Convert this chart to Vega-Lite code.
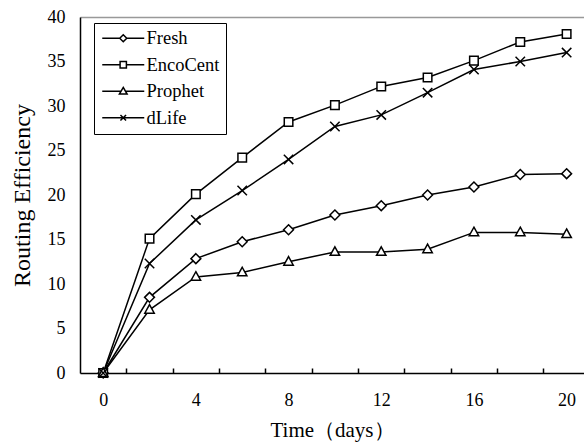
{
  "$schema": "https://vega.github.io/schema/vega-lite/v6.json",
  "width": 504,
  "height": 356,
  "autosize": {"type": "none"},
  "padding": {"left": 80, "top": 17, "right": 0, "bottom": 72},
  "background": "white",
  "config": {
    "view": {"stroke": null},
    "font": "Liberation Serif",
    "axis": {"labelFont": "Liberation Serif", "titleFont": "Liberation Serif", "labelColor": "black", "titleColor": "black", "titleFontWeight": "normal", "grid": false, "domainColor": "black", "domainWidth": 1.5, "tickColor": "black"},
    "legend": {"labelFont": "Liberation Serif"}
  },
  "data": {
    "values": [
      {"t": 0, "v": 0, "s": "Fresh"}, {"t": 2, "v": 8.5, "s": "Fresh"}, {"t": 4, "v": 12.85, "s": "Fresh"}, {"t": 6, "v": 14.75, "s": "Fresh"}, {"t": 8, "v": 16.1, "s": "Fresh"}, {"t": 10, "v": 17.75, "s": "Fresh"}, {"t": 12, "v": 18.8, "s": "Fresh"}, {"t": 14, "v": 20.0, "s": "Fresh"}, {"t": 16, "v": 20.9, "s": "Fresh"}, {"t": 18, "v": 22.3, "s": "Fresh"}, {"t": 20, "v": 22.4, "s": "Fresh"},
      {"t": 0, "v": 0, "s": "EncoCent"}, {"t": 2, "v": 15.1, "s": "EncoCent"}, {"t": 4, "v": 20.1, "s": "EncoCent"}, {"t": 6, "v": 24.2, "s": "EncoCent"}, {"t": 8, "v": 28.2, "s": "EncoCent"}, {"t": 10, "v": 30.1, "s": "EncoCent"}, {"t": 12, "v": 32.2, "s": "EncoCent"}, {"t": 14, "v": 33.2, "s": "EncoCent"}, {"t": 16, "v": 35.1, "s": "EncoCent"}, {"t": 18, "v": 37.2, "s": "EncoCent"}, {"t": 20, "v": 38.1, "s": "EncoCent"},
      {"t": 0, "v": 0, "s": "Prophet"}, {"t": 2, "v": 7.1, "s": "Prophet"}, {"t": 4, "v": 10.8, "s": "Prophet"}, {"t": 6, "v": 11.3, "s": "Prophet"}, {"t": 8, "v": 12.5, "s": "Prophet"}, {"t": 10, "v": 13.6, "s": "Prophet"}, {"t": 12, "v": 13.6, "s": "Prophet"}, {"t": 14, "v": 13.9, "s": "Prophet"}, {"t": 16, "v": 15.8, "s": "Prophet"}, {"t": 18, "v": 15.8, "s": "Prophet"}, {"t": 20, "v": 15.6, "s": "Prophet"},
      {"t": 0, "v": 0, "s": "dLife"}, {"t": 2, "v": 12.3, "s": "dLife"}, {"t": 4, "v": 17.2, "s": "dLife"}, {"t": 6, "v": 20.5, "s": "dLife"}, {"t": 8, "v": 24.0, "s": "dLife"}, {"t": 10, "v": 27.7, "s": "dLife"}, {"t": 12, "v": 29.0, "s": "dLife"}, {"t": 14, "v": 31.5, "s": "dLife"}, {"t": 16, "v": 34.1, "s": "dLife"}, {"t": 18, "v": 35.0, "s": "dLife"}, {"t": 20, "v": 36.0, "s": "dLife"}
    ]
  },
  "layer": [
    {
      "mark": {"type": "line", "color": "black", "strokeWidth": 1.5},
      "encoding": {
        "x": {"field": "t", "type": "quantitative", "scale": {"domain": [-1, 20.75], "nice": false, "zero": false},
          "axis": {"orient": "bottom", "values": [0,1,2,3,4,5,6,7,8,9,10,11,12,13,14,15,16,17,18,19,20],
            "labelExpr": "datum.value % 4 === 0 ? datum.label : ''",
            "tickSize": -5, "tickWidth": 1.5,
            "tickColor": {"condition": {"test": "datum.value % 2 === 0", "value": "transparent"}, "value": "black"},
            "labelFontSize": 18, "labelPadding": 23, "labelFlush": false,
            "title": "Time（days）", "titleFontSize": 21, "titlePadding": 10}},
        "y": {"field": "v", "type": "quantitative", "scale": {"domain": [0, 40], "nice": false},
          "axis": {"values": [0,5,10,15,20,25,30,35,40], "ticks": false, "labelFontSize": 18, "labelPadding": 15,
            "title": "Routing Efficiency", "titleFontSize": 24, "titlePadding": 13}},
        "detail": {"field": "s"}
      }
    },
    {
      "mark": {"type": "point", "filled": true, "fill": "white", "stroke": "black", "strokeWidth": 1.5, "size": 81, "opacity": 1},
      "encoding": {
        "x": {"field": "t", "type": "quantitative", "axis": {"orient": "top", "labels": false, "ticks": false, "title": null, "domainColor": "#999999", "domainWidth": 1.5}},
        "y": {"field": "v", "type": "quantitative"},
        "shape": {"field": "s", "type": "nominal", "legend": null,
          "scale": {"domain": ["Fresh", "EncoCent", "Prophet", "dLife"], "range": ["M0,-1.1L1.1,0L0,1.1L-1.1,0Z", "M-0.95,-0.95L0.95,-0.95L0.95,0.95L-0.95,0.95Z", "M0,-1.15L1.05,0.75L-1.05,0.75Z", "M-1.05,-1.05L1.05,1.05M-1.05,1.05L1.05,-1.05"]}}
      }
    },
    {
      "transform": [{"filter": "datum.t < 0"}],
      "mark": {"type": "point", "filled": false, "color": "black", "strokeWidth": 1.5, "size": 196, "opacity": 1},
      "encoding": {
        "x": {"field": "t", "type": "quantitative", "axis": null},
        "y": {"field": "v", "type": "quantitative"},
        "shape": {"field": "s", "type": "nominal",
          "scale": {"domain": ["Fresh", "EncoCent", "Prophet", "dLife"], "range": [
            "M-1,0L1.5,0M2.5,0L5,0M1.5,0L2,-0.5L2.5,0L2,0.5Z",
            "M-1,0L1.55,0M2.45,0L5,0M1.55,-0.45L2.45,-0.45L2.45,0.45L1.55,0.45Z",
            "M-1,0L1.68,0M2.32,0L5,0M2,-0.55L2.55,0.4L1.45,0.4Z",
            "M-1,0L5,0M1.6,-0.4L2.4,0.4M1.6,0.4L2.4,-0.4"]},
          "legend": {"title": null, "orient": "none", "legendX": 14, "legendY": 6,
            "fillColor": "white", "strokeColor": "black", "padding": 6,
            "labelFontSize": 18.5, "labelColor": "black", "labelOffset": 28, "rowPadding": 7.5,
            "symbolSize": 196, "symbolStrokeWidth": 1.5, "symbolStrokeColor": "black", "symbolOpacity": 1}}
      }
    }
  ],
  "resolve": {"axis": {"x": "independent"}, "scale": {"shape": "independent"}}
}
